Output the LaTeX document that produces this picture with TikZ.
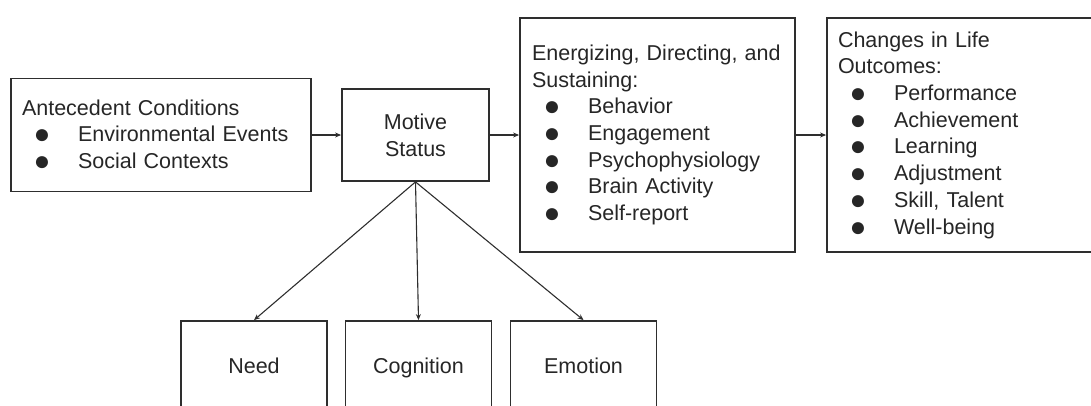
\documentclass[tikz,border=0pt]{standalone}
\usepackage{fontspec}
\setmainfont{Liberation Sans}
\usetikzlibrary{arrows.meta}

\definecolor{boxgray}{HTML}{2E2E2E}
\definecolor{textgray}{HTML}{262626}

% bullet line inside a list box
\newcommand{\bul}[1]{\hspace*{20pt}\makebox[0pt][c]{\raisebox{-2pt}{\scalebox{1.3}{●}}}\hspace*{36pt}#1}

\begin{document}
\begin{tikzpicture}[x=1pt, y=-1pt,
        box/.style={draw=boxgray, line width=1.8pt, inner sep=0pt,
            text=textgray, font=\fontsize{21.5}{26.7}\selectfont},
        listbox/.style={box, align=left, inner xsep=11pt},
        small/.style={box, minimum width=146pt, minimum height=94pt,
            text height=15.5pt, text depth=4.5pt},
        link/.style={draw=boxgray, line width=1.1pt, -{Stealth[length=6pt, width=5pt]}}]

    \useasboundingbox (0,0) rectangle (1091,405);
    \clip (0,0) rectangle (1091,405);

    \node[listbox, text width=278pt, minimum height=113pt] (ante) at (161,135)
        {Antecedent Conditions\\ \bul{Environmental Events}\\ \bul{Social Contexts}};
    \node[box, align=center, minimum width=147pt, minimum height=92pt] (motive) at (415.5,135)
        {Motive\\Status};
    \node[listbox, inner xsep=12pt, text width=251pt, minimum height=234pt] (energ) at (657.5,135)
        {Energizing, Directing, and\\Sustaining:\\ \bul{Behavior}\\ \bul{Engagement}\\
         \bul{Psychophysiology}\\ \bul{Brain Activity}\\ \bul{Self-report}};
    \node[listbox, text width=258pt, minimum height=234pt] (change) at (967,135)
        {Changes in Life\\Outcomes:\\ \bul{Performance}\\ \bul{Achievement}\\ \bul{Learning}\\
         \bul{Adjustment}\\ \bul{Skill, Talent}\\ \bul{Well-being}};

    \node[small] (need) at (254,368) {Need};
    \node[small] (cogn) at (418.5,368) {Cognition};
    \node[small] (emot) at (583.5,368) {Emotion};

    \draw[link] (ante.east) -- (motive.west);
    \draw[link] (motive.east) -- (energ.west);
    \draw[link] (energ.east) -- (change.west);
    \draw[link] (motive.south) -- (need.north);
    \draw[link] (motive.south) -- (cogn.north);
    \draw[link] (motive.south) -- (emot.north);
\end{tikzpicture}
\end{document}
